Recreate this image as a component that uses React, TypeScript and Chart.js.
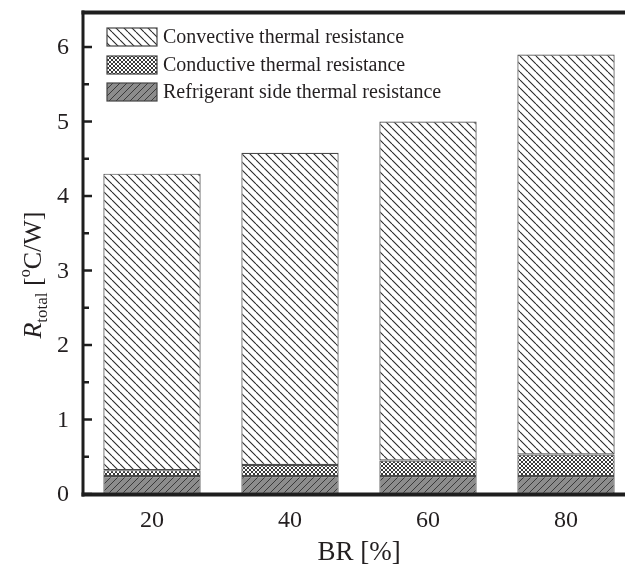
import { useEffect, useRef } from "react";
import { Chart, registerables } from "chart.js";

Chart.register(...registerables);

// ---- data ----
const categories = [20, 40, 60, 80];
const refrigerantSide = [0.24, 0.24, 0.24, 0.24];
const conductive = [0.08, 0.15, 0.21, 0.29];
const convective = [3.98, 4.19, 4.55, 5.37];
const seriesLabels = [
  "Convective thermal resistance",
  "Conductive thermal resistance",
  "Refrigerant side thermal resistance",
];
const yTicks = [0, 1, 2, 3, 4, 5, 6];
const yMinorTicks = [0.5, 1.5, 2.5, 3.5, 4.5, 5.5];
const xTicks = [20, 40, 60, 80];
const xTitle = "BR [%]";

const SERIF = '"Liberation Serif", "Times New Roman", serif';
const TEXT = "#231f20";

function makePattern(kind: "back" | "cross" | "fwd"): CanvasPattern | string {
  const c = document.createElement("canvas");
  const s = kind === "cross" ? 4 : kind === "back" ? 8 : 7;
  c.width = s;
  c.height = s;
  const g = c.getContext("2d")!;
  if (kind === "back") {
    g.fillStyle = "#ffffff";
    g.fillRect(0, 0, s, s);
    g.strokeStyle = "#2a2a2a";
    g.lineWidth = 1.1;
    g.beginPath();
    for (const k of [-s, 0, s]) {
      g.moveTo(k, 0);
      g.lineTo(k + s, s);
    }
    g.stroke();
  } else if (kind === "fwd") {
    g.fillStyle = "#8c8c8c";
    g.fillRect(0, 0, s, s);
    g.strokeStyle = "#3a3a3a";
    g.lineWidth = 1.0;
    g.beginPath();
    for (const k of [-s, 0, s]) {
      g.moveTo(k, s);
      g.lineTo(k + s, 0);
    }
    g.stroke();
  } else {
    g.fillStyle = "#ffffff";
    g.fillRect(0, 0, s, s);
    g.strokeStyle = "#3a3a3a";
    g.lineWidth = 1.0;
    g.beginPath();
    for (const k of [-s, 0, s]) {
      g.moveTo(k, 0);
      g.lineTo(k + s, s);
      g.moveTo(k, s);
      g.lineTo(k + s, 0);
    }
    g.stroke();
  }
  const p = g.createPattern(c, "repeat");
  return p || "#999";
}

export default function App() {
  const ref = useRef<HTMLCanvasElement | null>(null);

  useEffect(() => {
    const canvas = ref.current;
    if (!canvas) return;
    const pConv = makePattern("back");
    const pCond = makePattern("cross");
    const pRef = makePattern("fwd");
    const legendFills = [pConv, pCond, pRef];

    const decor = {
      id: "decor",
      afterDraw(chart: any) {
        const ctx = chart.ctx as CanvasRenderingContext2D;
        const area = chart.chartArea;
        const xs = chart.scales.x;
        const ys = chart.scales.y;
        ctx.save();
        // frame
        ctx.strokeStyle = "#1e1e1e";
        ctx.lineCap = "butt";
        ctx.lineWidth = 4;
        ctx.beginPath();
        ctx.moveTo(area.left - 1.5, area.top + 0.5);
        ctx.lineTo(chart.width, area.top + 0.5);
        ctx.stroke();
        ctx.beginPath();
        ctx.moveTo(area.left - 1.5, area.bottom + 0.5);
        ctx.lineTo(chart.width, area.bottom + 0.5);
        ctx.stroke();
        ctx.lineWidth = 3;
        ctx.beginPath();
        ctx.moveTo(area.left, area.top - 1.5);
        ctx.lineTo(area.left, area.bottom + 2.5);
        ctx.stroke();
        // y ticks (inward)
        ctx.lineWidth = 2.5;
        for (const v of yTicks) {
          const y = ys.getPixelForValue(v);
          ctx.beginPath();
          ctx.moveTo(area.left, y);
          ctx.lineTo(area.left + 9, y);
          ctx.stroke();
        }
        for (const v of yMinorTicks) {
          const y = ys.getPixelForValue(v);
          ctx.beginPath();
          ctx.moveTo(area.left, y);
          ctx.lineTo(area.left + 6, y);
          ctx.stroke();
        }
        // y tick labels
        ctx.fillStyle = TEXT;
        ctx.font = `24px ${SERIF}`;
        ctx.textAlign = "right";
        ctx.textBaseline = "middle";
        for (const v of yTicks) {
          ctx.fillText(String(v), area.left - 14, ys.getPixelForValue(v) + 1);
        }
        // x tick labels
        ctx.textAlign = "center";
        for (const v of xTicks) {
          ctx.fillText(String(v), xs.getPixelForValue(v), area.bottom + 27);
        }
        // x title
        ctx.font = `27px ${SERIF}`;
        ctx.fillText(xTitle, xs.getPixelForValue(50), area.bottom + 59);
        // y title (rotated, with subscript and superscript)
        ctx.save();
        ctx.translate(41, (area.top + area.bottom) / 2 + 22);
        ctx.rotate(-Math.PI / 2);
        ctx.textAlign = "left";
        ctx.textBaseline = "alphabetic";
        const fR = `italic 26px ${SERIF}`;
        const fSub = `17px ${SERIF}`;
        const fMain = `26px ${SERIF}`;
        const fSup = `16px ${SERIF}`;
        const parts: [string, string, number][] = [
          ["R", fR, 0],
          ["total", fSub, 6],
          [" [", fMain, 0],
          ["o", fSup, -11],
          ["C/W]", fMain, 0],
        ];
        let total = 0;
        for (const [t, f] of parts) {
          ctx.font = f;
          total += ctx.measureText(t).width;
        }
        let x = -total / 2;
        for (const [t, f, dy] of parts) {
          ctx.font = f;
          ctx.fillText(t, x, dy);
          x += ctx.measureText(t).width;
        }
        ctx.restore();
        // legend
        const bx = area.left + 24;
        const rows = [37, 65, 92];
        ctx.font = `20px ${SERIF}`;
        ctx.textAlign = "left";
        ctx.textBaseline = "middle";
        for (let i = 0; i < seriesLabels.length; i++) {
          const cy = rows[i];
          ctx.fillStyle = legendFills[i] as any;
          ctx.fillRect(bx, cy - 9, 50, 18);
          ctx.strokeStyle = "#444";
          ctx.lineWidth = 1.2;
          ctx.strokeRect(bx, cy - 9, 50, 18);
          ctx.fillStyle = TEXT;
          ctx.fillText(seriesLabels[i], bx + 56, cy + 1);
        }
        ctx.restore();
      },
    };

    const toXY = (arr: number[]) => arr.map((v, i) => ({ x: categories[i], y: v }));
    const common = {
      borderColor: "#4a4a4a",
      borderWidth: 1.2,
      borderSkipped: false as const,
      categoryPercentage: 1,
      barPercentage: 0.705,
    };

    const chart = new Chart(canvas, {
      type: "bar",
      data: {
        datasets: [
          { label: seriesLabels[2], data: toXY(refrigerantSide), backgroundColor: pRef as any, ...common },
          { label: seriesLabels[1], data: toXY(conductive), backgroundColor: pCond as any, ...common },
          { label: seriesLabels[0], data: toXY(convective), backgroundColor: pConv as any, ...common },
        ],
      },
      options: {
        responsive: false,
        animation: false,
        devicePixelRatio: 1,
        layout: { padding: { left: 83, top: 12, right: 0, bottom: 78 } },
        plugins: { legend: { display: false }, tooltip: { enabled: false } },
        scales: {
          x: {
            type: "linear",
            stacked: true,
            offset: false,
            min: 10,
            max: 88.55,
            display: false,
            afterBuildTicks: (s: any) => {
              s.ticks = xTicks.map((v) => ({ value: v }));
            },
          },
          y: { type: "linear", stacked: true, min: 0, max: 6.47, display: false },
        },
      },
      plugins: [decor],
    });
    return () => chart.destroy();
  }, []);

  return (
    <div style={{ position: "absolute", left: 0, top: 0, width: 625, height: 572, background: "#fff" }}>
      <canvas ref={ref} width={625} height={572} style={{ display: "block" }} />
    </div>
  );
}
